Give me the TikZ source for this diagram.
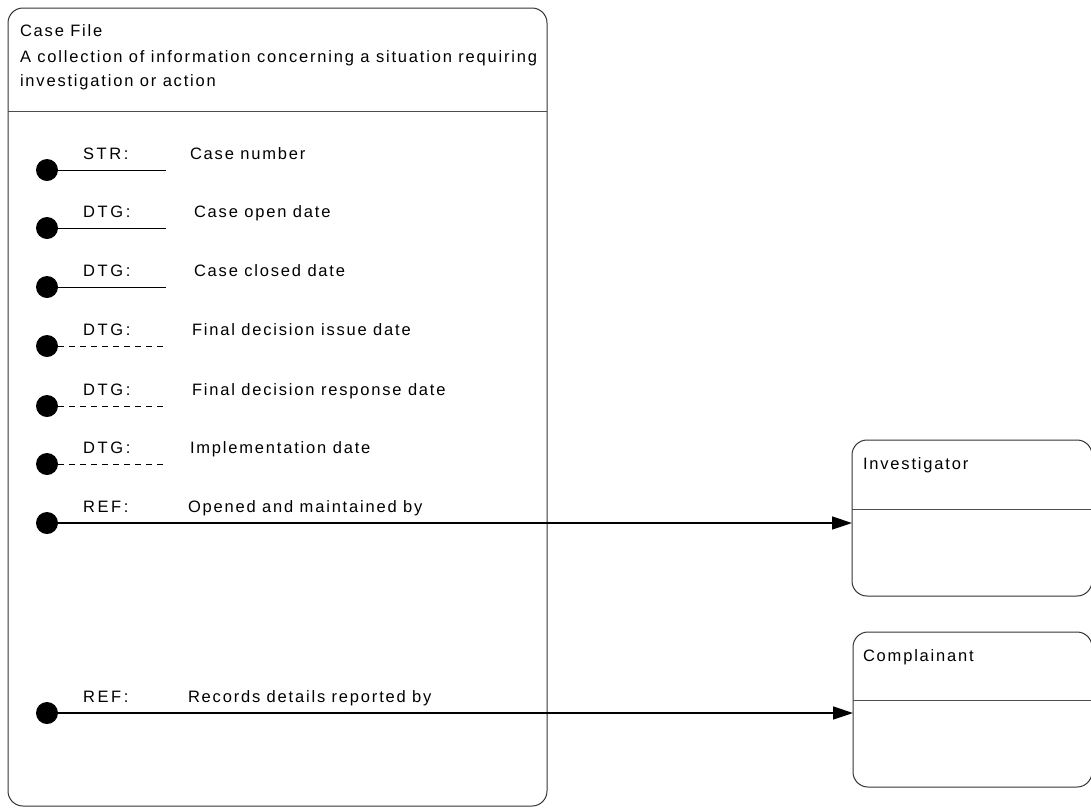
\documentclass[tikz,border=0pt]{standalone}
\usepackage{fontspec}
\setmainfont{Liberation Sans}[LetterSpace=11]
\newfontfamily\typefont[LetterSpace=16]{Liberation Sans}
\usetikzlibrary{arrows.meta}
\begin{document}
\begin{tikzpicture}[x=1pt,y=-1pt,
  every node/.style={inner sep=0pt, outer sep=0pt, font=\fontsize{16.5}{20}\selectfont},
  entity/.style={draw=black!80, line width=1pt, rounded corners=15pt, anchor=north west},
  divider/.style={draw=black!70, line width=1pt},
  dot/.style={circle, fill=black, minimum size=22pt},
  attr/.style={line width=0.9pt},
  optattr/.style={line width=0.9pt, dash pattern=on 6pt off 5pt},
  ref/.style={line width=1.6pt, -{Triangle[length=20pt,width=13pt]}},
  txt/.style={anchor=base west},
  kind/.style={anchor=base west, font=\fontsize{16.5}{20}\typefont}]
\useasboundingbox (0,0) rectangle (1091,807);

% entities
\node[entity, minimum width=539pt, minimum height=798pt] (case) at (8,8) {};
\node[entity, minimum width=240pt, minimum height=156pt] (inv) at (852,440) {};
\node[entity, minimum width=239pt, minimum height=155pt] (comp) at (853,632) {};
\draw[divider] (case.west |- 0,111) -- (case.east |- 0,111);
\draw[divider] (inv.west |- 0,509) -- (inv.east |- 0,509);
\draw[divider] (comp.west |- 0,700) -- (comp.east |- 0,700);

% headings
\node[txt] (casetitle) at (20,36) {Case File};
\node[txt] (casedesc1) at (20,62) {A collection of information concerning a situation requiring};
\node[txt] (casedesc2) at (20,86) {investigation or action};
\node[txt] (invtitle) at (863,469) {Investigator};
\node[txt] (comptitle) at (863,661) {Complainant};

% attributes
\foreach \n/\y/\k/\lbl/\lx/\st in {
  a1/170/STR:/Case number/190/attr,
  a2/228/DTG:/Case open date/194/attr,
  a3/287/DTG:/Case closed date/194/attr,
  a4/346/DTG:/Final decision issue date/192/optattr,
  a5/406/DTG:/Final decision response date/192/optattr,
  a6/464/DTG:/Implementation date/190/optattr}{
  \node[dot] (\n) at (47,\y) {};
  \coordinate (\n e) at (166,\y);
  \draw[\st] (\n) -- (\n e);
  \node[kind] (\n k) at (83,\y-11) {\k};
  \node[txt] (\n l) at (\lx,\y-11) {\lbl};
}

% relationships
\node[dot] (r1) at (47,523) {};
\node[kind] (r1k) at (83,512) {REF:};
\node[txt] (r1l) at (188,512) {Opened and maintained by};
\draw[ref] (r1) -- (r1 -| inv.west);

\node[dot] (r2) at (47,713) {};
\node[kind] (r2k) at (83,702) {REF:};
\node[txt] (r2l) at (188,702) {Records details reported by};
\draw[ref] (r2) -- (r2 -| comp.west);
\end{tikzpicture}
\end{document}
